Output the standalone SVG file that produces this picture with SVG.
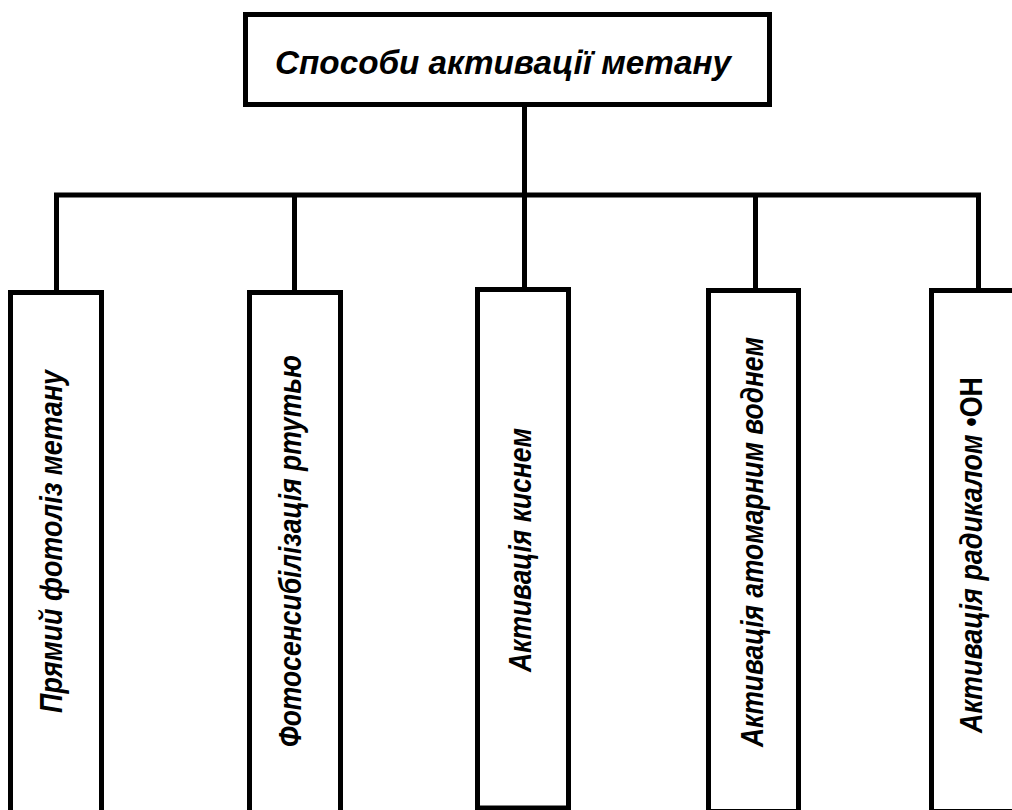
<svg xmlns="http://www.w3.org/2000/svg" width="1012" height="810" viewBox="0 0 1012 810">
<style>
.box{fill:#fff;stroke:#000;stroke-width:5}
.con{fill:none;stroke:#000;stroke-width:5;stroke-linejoin:miter}
.t{font-family:"Liberation Sans",Arial,sans-serif;font-style:italic;font-weight:bold;fill:#000;text-anchor:middle}
.title{font-size:33px}
.v{font-size:31px}
</style>
<rect width="1012" height="810" fill="#fff"/>
<g id="connectors">
<path class="con" d="M524.5 104.5 V289.5"/>
<path class="con" d="M56.5 292.5 V195 H978.5 V290.5"/>
<path class="con" d="M294.5 195 V292.5"/>
<path class="con" d="M755.5 195 V290.5"/>
</g>
<g id="root">
<rect class="box" x="245.5" y="14.5" width="524" height="90"/>
<text class="t title" x="503" y="74" textLength="456" lengthAdjust="spacingAndGlyphs">Способи активації метану</text>
</g>
<g id="n1">
<rect class="box" x="10.5" y="292.5" width="91" height="530"/>
<text class="t v" transform="translate(62,541.5) rotate(-90)" textLength="343" lengthAdjust="spacingAndGlyphs">Прямий фотоліз метану</text>
</g>
<g id="n2">
<rect class="box" x="249.5" y="292.5" width="91" height="530"/>
<text class="t v" transform="translate(301,551) rotate(-90)" textLength="392" lengthAdjust="spacingAndGlyphs">Фотосенсибілізація ртутью</text>
</g>
<g id="n3">
<rect class="box" x="477.5" y="289.5" width="91" height="518.5"/>
<text class="t v" transform="translate(531,550) rotate(-90)" textLength="244" lengthAdjust="spacingAndGlyphs">Активація киснем</text>
</g>
<g id="n4">
<rect class="box" x="708.5" y="290.5" width="90" height="521"/>
<text class="t v" transform="translate(763,542) rotate(-90)" textLength="410" lengthAdjust="spacingAndGlyphs">Активація атомарним воднем</text>
</g>
<g id="n5">
<rect class="box" x="931.5" y="290.5" width="91" height="521"/>
<text class="t v" transform="translate(982,555) rotate(-90)" textLength="356" lengthAdjust="spacingAndGlyphs">Активація радикалом <tspan font-style="normal">•ОН</tspan></text>
</g>
</svg>
